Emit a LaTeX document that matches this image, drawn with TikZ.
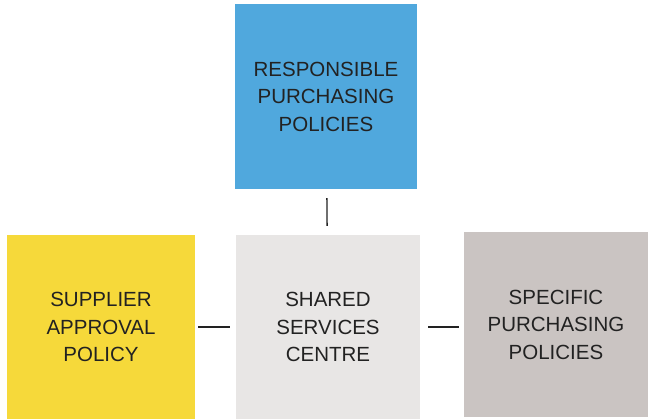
\documentclass[tikz,border=0pt]{standalone}
\usepackage{fontspec}
\setmainfont{Liberation Sans}
\definecolor{noteblue}{RGB}{80,168,221}
\definecolor{noteyellow}{RGB}{246,217,58}
\definecolor{notelight}{RGB}{232,230,229}
\definecolor{notegrey}{RGB}{202,196,194}
\definecolor{inkdark}{RGB}{34,34,34}
\begin{document}
\begin{tikzpicture}[x=1pt,y=1pt,
    note/.style={minimum width=184pt,minimum height=184pt,inner sep=0pt,
      align=center,text=inkdark,font=\fontsize{20.5}{27.5}\selectfont},
    link/.style={line width=1.3pt,inkdark}]
  \useasboundingbox (0,0) rectangle (648,420);

  \node[note,fill=noteblue,minimum width=182pt,minimum height=185pt]
    (responsible) at (326,323.5) {RESPONSIBLE\\PURCHASING\\POLICIES};
  \node[note,fill=notelight] (shared) at (328,93) {SHARED\\SERVICES\\CENTRE};
  \node[note,fill=noteyellow,minimum width=188pt] (supplier) at (101,93)
    {SUPPLIER\\APPROVAL\\POLICY};
  \node[note,fill=notegrey,minimum height=185pt] (specific) at (556,95.5)
    {SPECIFIC\\PURCHASING\\POLICIES};

  \draw[link,shorten <=9pt,shorten >=9pt] (responsible) -- (shared);
  \draw[link,shorten <=3pt,shorten >=6pt] (supplier) -- (shared);
  \draw[link,shorten <=8pt,shorten >=5pt] (shared.east) -- (shared.east -| specific.west);
\end{tikzpicture}
\end{document}
